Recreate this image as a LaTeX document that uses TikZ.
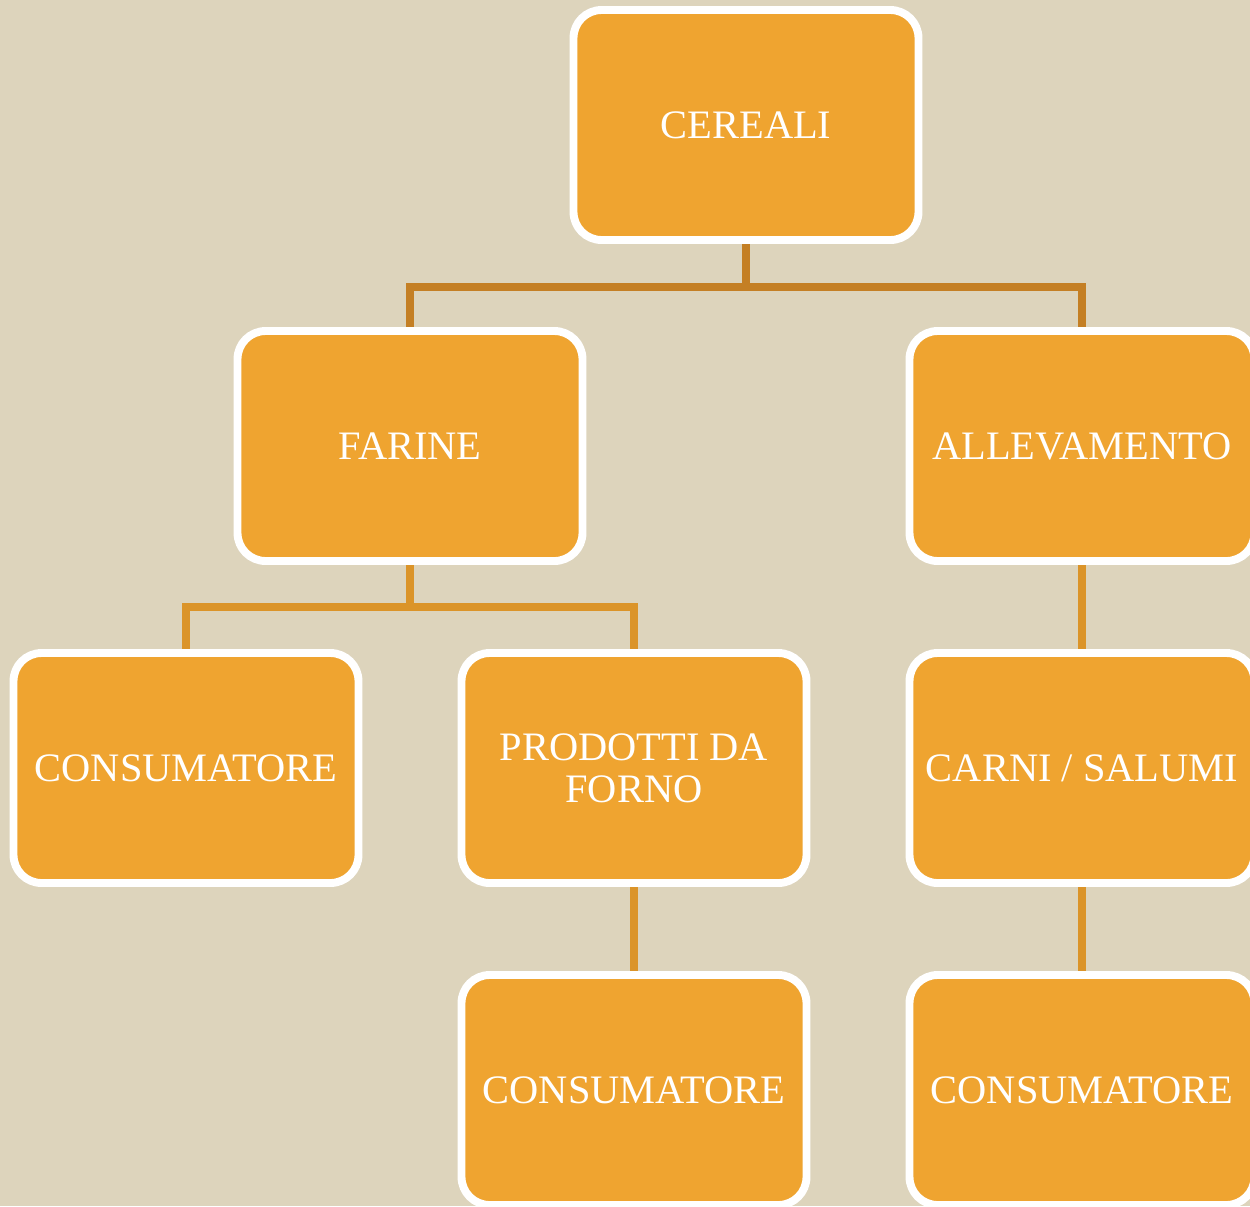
\documentclass[tikz,border=0pt]{standalone}
\usepackage{fontspec}
\setmainfont{Liberation Serif}
\usetikzlibrary{positioning, backgrounds}
\definecolor{carta}{HTML}{DDD4BC}
\definecolor{arancio}{HTML}{EFA430}
\definecolor{ramo}{HTML}{C47F24}
\definecolor{ramochiaro}{HTML}{DB9429}

\begin{document}
\begin{tikzpicture}[
    every node/.style={font=\fontsize{23}{25}\selectfont},
    box/.style={draw=white, line width=4.5pt, rounded corners=16pt, fill=arancio,
                text=white, minimum width=6.9cm, minimum height=4.6cm,
                align=center, inner sep=2pt},
    conn/.style={line width=5pt, draw=ramo},
    conn2/.style={line width=5pt, draw=ramochiaro}
]
    \useasboundingbox (0,0) rectangle (25,-24.12);

    % ===== livello 0 e 1 =====
    \node[box] (cereali)     at (14.92, -2.50) {CEREALI};
    \node[box] (farine)      at ( 8.20, -8.92) {FARINE};
    \node[box] (allevamento) at (21.64, -8.92) {ALLEVAMENTO};

    % ===== livello 2 e 3 =====
    \node[box] (cons1)  at ( 3.72, -15.36) {CONSUMATORE};
    \node[box] (forno)  at (12.68, -15.36) {PRODOTTI DA\\[-1pt]FORNO};
    \node[box] (carni)  at (21.64, -15.36) {CARNI / SALUMI};
    \node[box] (cons2)  at (12.68, -21.80) {CONSUMATORE};
    \node[box] (cons3)  at (21.64, -21.80) {CONSUMATORE};

    \coordinate (j1) at (14.92, -5.74);
    \coordinate (j2) at ( 8.20, -12.14);

    \begin{scope}[on background layer]
        \fill[carta] (0,0) rectangle (25,-24.12);
        \draw[conn] (cereali.south) -- (j1);
        \draw[conn] (farine.north) |- (j1) -| (allevamento.north);
        \draw[conn2] (farine.south) -- (j2);
        \draw[conn2] (cons1.north) |- (j2) -| (forno.north);
        \draw[conn2] (allevamento) -- (carni);
        \draw[conn2] (forno) -- (cons2);
        \draw[conn2] (carni) -- (cons3);
    \end{scope}
\end{tikzpicture}
\end{document}
